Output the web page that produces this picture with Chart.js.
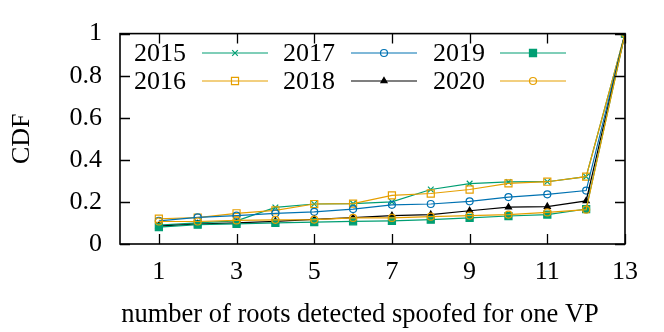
<!DOCTYPE html>
<html><head><meta charset="utf-8">
<script src="https://cdn.jsdelivr.net/npm/chart.js@4/dist/chart.umd.min.js"></script>
<style>html,body{margin:0;padding:0;background:#fff}</style>
</head><body>
<canvas id="c" width="664" height="332"></canvas>
<script>
const roots = [1,2,3,4,5,6,7,8,9,10,11,12,13];
const xTicks = [1,3,5,7,9,11,13];
const yTicks = [0,0.2,0.4,0.6,0.8,1];
const years = ['2015','2016','2017','2018','2019','2020'];
const cdf2015 = [0.09,0.10,0.11,0.174,0.19,0.192,0.20,0.259,0.287,0.295,0.296,0.32,1];
const cdf2016 = [0.12,0.125,0.146,0.16,0.19,0.192,0.231,0.24,0.259,0.288,0.296,0.32,1];
const cdf2017 = [0.11,0.127,0.135,0.146,0.153,0.166,0.186,0.19,0.203,0.223,0.236,0.254,1];
const cdf2018 = [0.085,0.095,0.10,0.108,0.117,0.125,0.135,0.14,0.158,0.175,0.178,0.205,1];
const cdf2019 = [0.08,0.092,0.096,0.10,0.104,0.108,0.11,0.116,0.124,0.133,0.14,0.166,1];
const cdf2020 = [0.107,0.107,0.112,0.115,0.116,0.124,0.124,0.13,0.135,0.14,0.15,0.163,1];
const xTitle = 'number of roots detected spoofed for one VP';
const yTitle = 'CDF';

const series = [cdf2015,cdf2016,cdf2017,cdf2018,cdf2019,cdf2020];
const colors = ['#009e73','#e69f00','#0072b2','#000000','#009e73','#e69f00'];
const styles = ['crossRot','rect','circle','triangle','rect','circle'];
const radii = [4,5,3.5,3.5,5,3.5];
const fills = [false,false,false,true,true,false];
const FONT = '"Liberation Serif","DejaVu Serif",serif';

const datasets = series.map((s,i)=>({
  label: years[i],
  data: roots.map((r,j)=>({x:r,y:s[j]})),
  borderColor: colors[i],
  backgroundColor: fills[i] ? colors[i] : 'rgba(0,0,0,0)',
  pointBorderColor: colors[i],
  pointBackgroundColor: fills[i] ? colors[i] : 'rgba(0,0,0,0)',
  pointStyle: styles[i],
  pointRadius: radii[i],
  pointBorderWidth: 1.2,
  borderWidth: 1.2,
  showLine: true,
  fill: false,
  tension: 0,
  order: 5 - i
}));

const framePlugin = {
  id: 'frame',
  afterDatasetsDraw(chart) {
    const {ctx, chartArea: a, scales: {x, y}} = chart;
    ctx.save();
    ctx.strokeStyle = '#000';
    ctx.lineWidth = 1.3;
    const tl = 10;
    ctx.beginPath();
    xTicks.forEach(v => {
      const px = Math.round(x.getPixelForValue(v)) + 0.5;
      ctx.moveTo(px, a.bottom); ctx.lineTo(px, a.bottom - tl);
      ctx.moveTo(px, a.top); ctx.lineTo(px, a.top + tl);
    });
    yTicks.forEach(v => {
      const py = Math.round(y.getPixelForValue(v)) + 0.5;
      ctx.moveTo(a.left, py); ctx.lineTo(a.left + tl, py);
      ctx.moveTo(a.right, py); ctx.lineTo(a.right - tl, py);
    });
    ctx.stroke();
    ctx.lineWidth = 1.6;
    ctx.strokeRect(a.left, a.top, a.right - a.left, a.bottom - a.top);

    // x axis title (gnuplot places it slightly left of plot centre)
    ctx.fillStyle = '#000';
    ctx.font = '26.5px ' + FONT;
    ctx.textAlign = 'center';
    ctx.textBaseline = 'alphabetic';
    ctx.fillText(xTitle, 360, 322);

    // legend (gnuplot style: text then sample)
    const cols = [{tx:186, l0:202, l1:268},{tx:335, l0:351, l1:417},{tx:485, l0:500, l1:566}];
    const rows = [53, 81];
    ctx.font = '26px ' + FONT;
    ctx.textAlign = 'right';
    ctx.textBaseline = 'middle';
    datasets.forEach((d, i) => {
      const c = cols[Math.floor(i/2)], ry = rows[i%2];
      ctx.fillStyle = '#000';
      ctx.fillText(d.label, c.tx, ry + 1);
      ctx.strokeStyle = d.borderColor;
      ctx.lineWidth = 1.2;
      ctx.beginPath(); ctx.moveTo(c.l0, ry); ctx.lineTo(c.l1, ry); ctx.stroke();
      ctx.fillStyle = d.pointBackgroundColor;
      ctx.strokeStyle = d.pointBorderColor;
      Chart.helpers.drawPoint(ctx, {pointStyle: d.pointStyle, radius: d.pointRadius, borderWidth: 1.2, rotation: 0}, (c.l0 + c.l1)/2, ry);
      if (fills[i]) ctx.fill();
    });
    ctx.restore();
  }
};

new Chart(document.getElementById('c'), {
  type: 'scatter',
  data: { datasets },
  options: {
    responsive: false,
    animation: false,
    devicePixelRatio: 1,
    layout: { padding: { top: 29, right: 39, left: 0, bottom: 0 } },
    plugins: { legend: { display: false }, tooltip: { enabled: false } },
    scales: {
      x: {
        type: 'linear', min: 0, max: 13,
        afterBuildTicks: s => { s.ticks = xTicks.map(v => ({value: v})); },
        afterFit: s => { s.height = 88; },
        grid: { display: false, drawTicks: false },
        border: { display: false },
        ticks: { color: '#000', font: { family: FONT, size: 26 }, padding: 13, autoSkip: false, maxRotation: 0 },
        title: { display: false }
      },
      y: {
        type: 'linear', min: 0, max: 1,
        afterBuildTicks: s => { s.ticks = yTicks.map(v => ({value: v})); },
        afterFit: s => { s.width = 120; },
        grid: { display: false, drawTicks: false },
        border: { display: false },
        ticks: { color: '#000', font: { family: FONT, size: 26 }, padding: 18, callback: v => String(v) },
        title: { display: true, text: yTitle, color: '#000', font: { family: FONT, size: 26 }, padding: { top: 7, bottom: 0 } }
      }
    }
  },
  plugins: [framePlugin]
});
</script>
</body></html>
